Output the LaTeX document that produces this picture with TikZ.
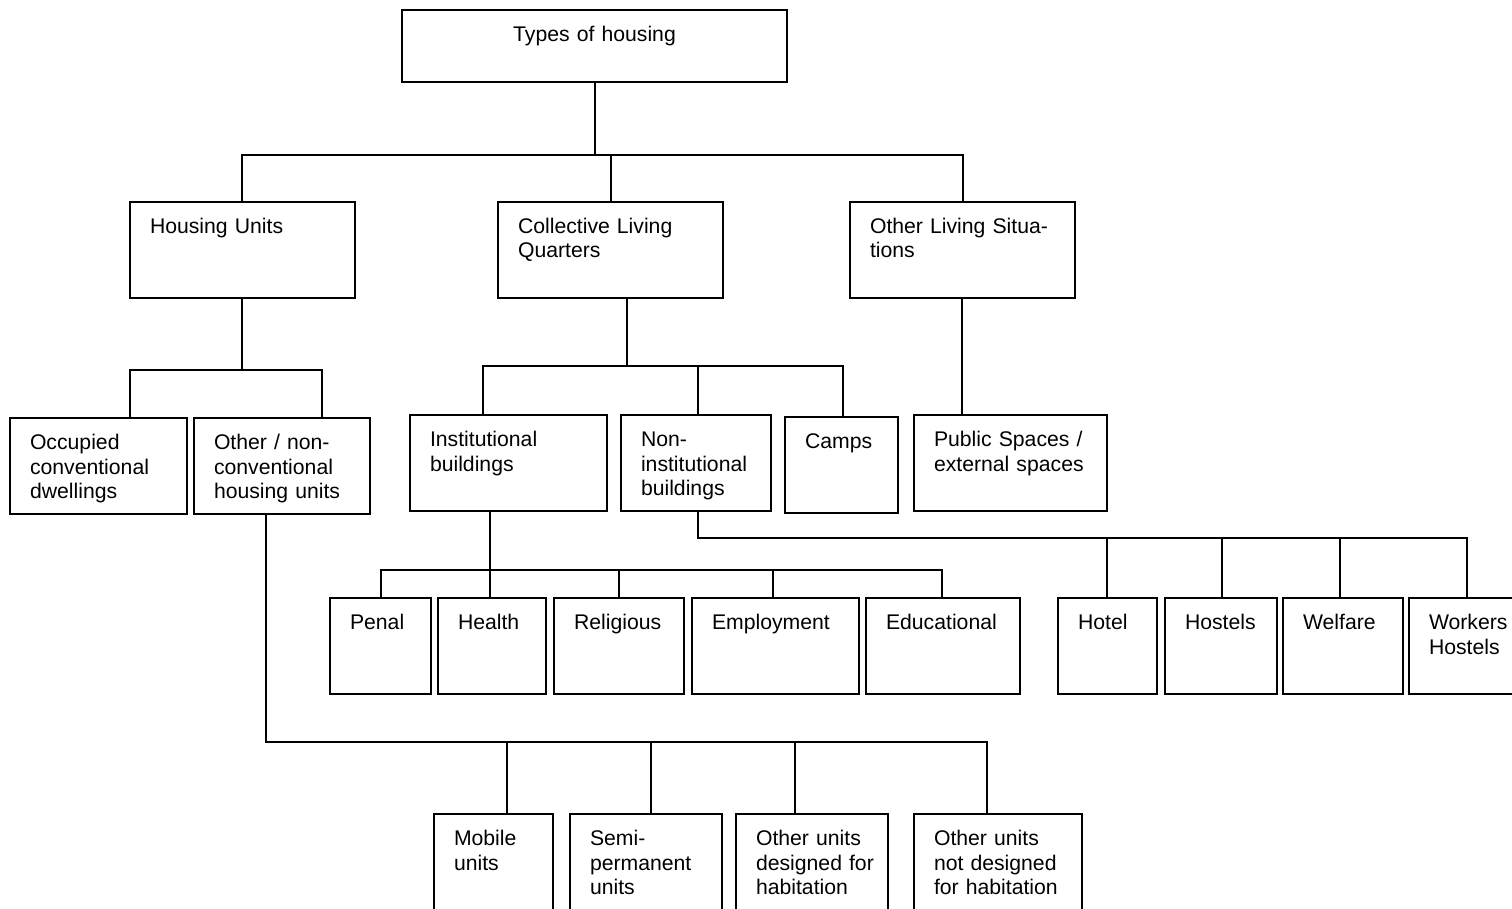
\documentclass[tikz,border=0pt]{standalone}
\usepackage{fontspec}
\setmainfont{Liberation Sans}
\tikzset{
  box/.style={draw, line width=1.5pt, anchor=north west, align=left,
    inner xsep=20pt, inner ysep=0pt, outer sep=0pt, text height=31.5pt,
    font=\fontsize{21.2}{24.5}\selectfont},
  conn/.style={line width=1.5pt}
}
\newcommand\mybox[6]{%
  \pgfmathsetmacro\mybxw{#4-#2-40}%
  \pgfmathsetmacro\mybxd{#5-#3-31.5}%
  \node[box, text width=\mybxw pt, text depth=\mybxd pt] (#1) at (#2,#3) {#6};}
\begin{document}
\begin{tikzpicture}[x=1pt,y=-1pt]
\useasboundingbox (0,0) rectangle (1512,909);
\node[box, align=center, text width=345pt, text depth=40.5pt] (top) at (402,10) {Types~of~housing};
\mybox{hu}{130}{202}{355}{298}{Housing~Units}
\mybox{clq}{498}{202}{723}{298}{Collective~Living\\Quarters}
\mybox{ols}{850}{202}{1075}{298}{Other~Living~Situa-\\tions}
\mybox{occ}{10}{418}{187}{514}{Occupied\\conventional\\dwellings}
\mybox{onc}{194}{418}{370}{514}{Other~/~non-\\conventional\\housing~units}
\mybox{inst}{410}{415}{607}{511}{Institutional\\buildings}
\mybox{non}{621}{415}{771}{511}{Non-\\institutional\\buildings}
\mybox{camps}{785}{417}{898}{513}{Camps}
\mybox{ps}{914}{415}{1107}{511}{Public~Spaces~/\\external~spaces}
\mybox{penal}{330}{598}{431}{694}{Penal}
\mybox{health}{438}{598}{546}{694}{Health}
\mybox{rel}{554}{598}{684}{694}{Religious}
\mybox{emp}{692}{598}{859}{694}{Employment}
\mybox{edu}{866}{598}{1020}{694}{Educational}
\mybox{hotel}{1058}{598}{1157}{694}{Hotel}
\mybox{hostels}{1165}{598}{1277}{694}{Hostels}
\mybox{welfare}{1283}{598}{1403}{694}{Welfare}
\mybox{workers}{1409}{598}{1540}{694}{Workers\\Hostels}
\mybox{mobile}{434}{814}{553}{940}{Mobile\\units}
\mybox{semi}{570}{814}{722}{940}{Semi-\\permanent\\units}
\mybox{od}{736}{814}{888}{940}{Other~units\\designed~for\\habitation}
\mybox{ond}{914}{814}{1082}{940}{Other~units\\not~designed\\for~habitation}
% connectors
\draw[conn] (top.south -| 595,0) -- ++(0,73) -| (hu.north -| 242,0);
\draw[conn] (top.south -| 595,0) -- ++(0,73) -| (clq.north -| 611,0);
\draw[conn] (top.south -| 595,0) -- ++(0,73) -| (ols.north -| 963,0);
\draw[conn] (ols.south -| 962,0) -- (ps.north -| 962,0);
\draw[conn] (hu.south -| 242,0) -- ++(0,72) -| (occ.north -| 130,0);
\draw[conn] (hu.south -| 242,0) -- ++(0,72) -| (onc.north -| 322,0);
\draw[conn] (clq.south -| 627,0) -- ++(0,68) -| (inst.north -| 483,0);
\draw[conn] (clq.south -| 627,0) -- ++(0,68) -| (non.north -| 698,0);
\draw[conn] (clq.south -| 627,0) -- ++(0,68) -| (camps.north -| 843,0);
\draw[conn] (inst.south -| 490,0) -- ++(0,59) -| (penal.north -| 381,0);
\draw[conn] (inst.south -| 490,0) -- ++(0,59) -| (health.north -| 490,0);
\draw[conn] (inst.south -| 490,0) -- ++(0,59) -| (rel.north -| 619,0);
\draw[conn] (inst.south -| 490,0) -- ++(0,59) -| (emp.north -| 773,0);
\draw[conn] (inst.south -| 490,0) -- ++(0,59) -| (edu.north -| 942,0);
\draw[conn] (non.south -| 698,0) -- ++(0,27) -| (hotel.north -| 1107,0);
\draw[conn] (non.south -| 698,0) -- ++(0,27) -| (hostels.north -| 1222,0);
\draw[conn] (non.south -| 698,0) -- ++(0,27) -| (welfare.north -| 1340,0);
\draw[conn] (non.south -| 698,0) -- ++(0,27) -| (workers.north -| 1467,0);
\draw[conn] (onc.south -| 266,0) -- ++(0,228) -| (mobile.north -| 507,0);
\draw[conn] (onc.south -| 266,0) -- ++(0,228) -| (semi.north -| 651,0);
\draw[conn] (onc.south -| 266,0) -- ++(0,228) -| (od.north -| 795,0);
\draw[conn] (onc.south -| 266,0) -- ++(0,228) -| (ond.north -| 987,0);
\end{tikzpicture}
\end{document}
